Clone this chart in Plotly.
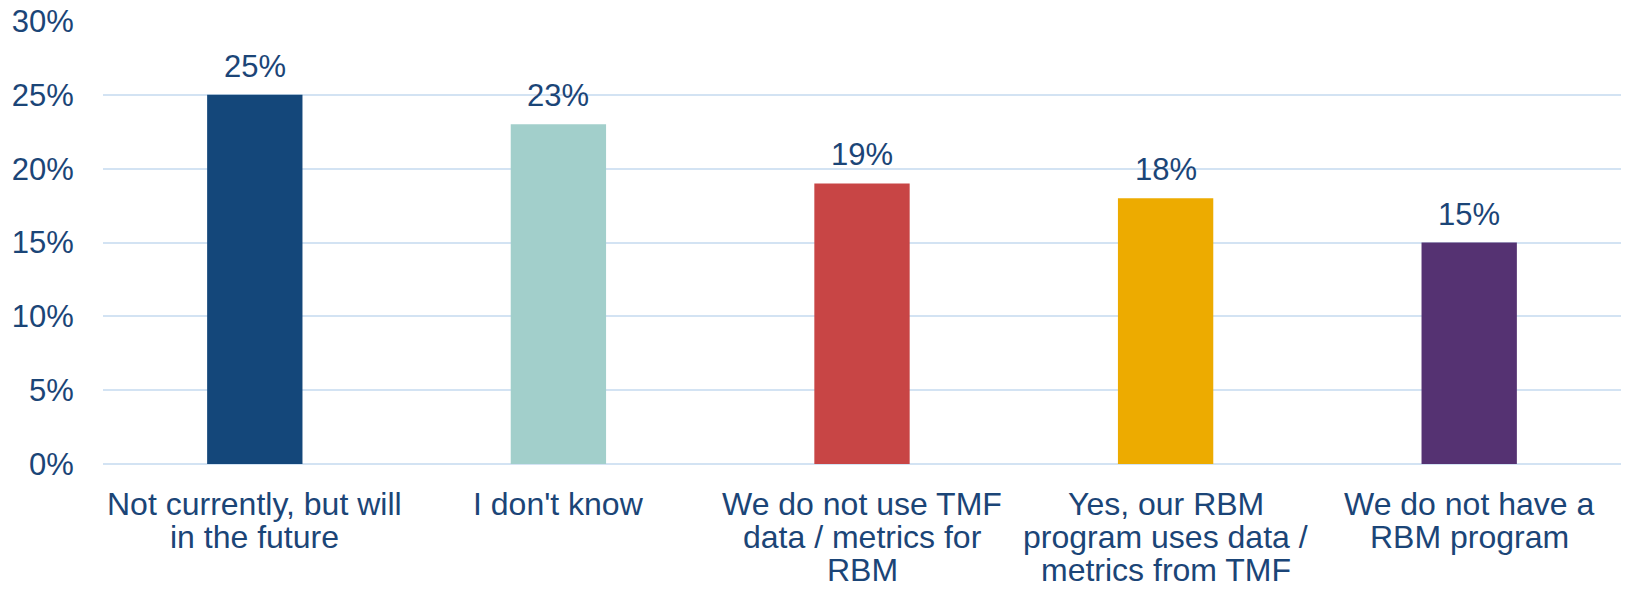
import plotly.graph_objects as go

# survey answers and share of respondents
categories = [
    "Not currently, but will in the future",
    "I don't know",
    "We do not use TMF data / metrics for RBM",
    "Yes, our RBM program uses data / metrics from TMF",
    "We do not have a RBM program",
]
# how each category label wraps on the axis
label_lines = [
    ["Not currently, but will", "in the future"],
    ["I don't know"],
    ["We do not use TMF", "data / metrics for", "RBM"],
    ["Yes, our RBM", "program uses data /", "metrics from TMF"],
    ["We do not have a", "RBM program"],
]
shares = [0.25, 0.23, 0.19, 0.18, 0.15]
bar_colors = ["#14477A", "#A2CFCB", "#C84545", "#EDAB00", "#553272"]
y_ticks = [0, 0.05, 0.10, 0.15, 0.20, 0.25, 0.30]

text_color = "#1B4577"
grid_color = "#D3E3F3"
font_family = "Liberation Sans, Arial, sans-serif"

fig = go.Figure()
fig.add_trace(go.Bar(
    x=categories,
    y=shares,
    marker=dict(color=bar_colors, line=dict(width=0)),
    hoverinfo="x+y",
))

# value labels above the bars
for cat, v in zip(categories, shares):
    fig.add_annotation(
        x=cat, y=v, xref="x", yref="y",
        text=f"{v:.0%}", showarrow=False,
        yanchor="bottom", yshift=9,
        font=dict(size=31, color=text_color, family=font_family),
    )

# category labels, one annotation per line for tight line spacing
for cat, lines in zip(categories, label_lines):
    for i, line in enumerate(lines):
        fig.add_annotation(
            x=cat, y=0, xref="x", yref="paper",
            text=line, showarrow=False, borderpad=0,
            yanchor="middle", yshift=-(40 + i * 33),
            font=dict(size=32, color=text_color, family=font_family),
        )

fig.update_layout(
    width=1626,
    height=590,
    margin=dict(l=103, r=5, t=21, b=126),
    plot_bgcolor="white",
    paper_bgcolor="white",
    bargap=0.686,
    showlegend=False,
    font=dict(family=font_family, size=31, color=text_color),
)
fig.update_xaxes(
    showgrid=False,
    showline=False,
    showticklabels=False,
    automargin=False,
)
fig.update_yaxes(
    range=[0, 0.3],
    tickvals=y_ticks,
    tickformat=".0%",
    showgrid=True,
    gridcolor=grid_color,
    gridwidth=2,
    zeroline=True,
    zerolinecolor=grid_color,
    zerolinewidth=2,
    showline=False,
    ticks="outside",
    ticklen=22,
    tickcolor="rgba(0,0,0,0)",
    tickfont=dict(size=31, color=text_color),
    automargin=False,
)

# drop the browser's default 8px body margin so the figure sits at the page corner
fig.write_html(
    "out.html",
    config={"displayModeBar": False},
    post_script="document.body.style.margin='0';",
)
